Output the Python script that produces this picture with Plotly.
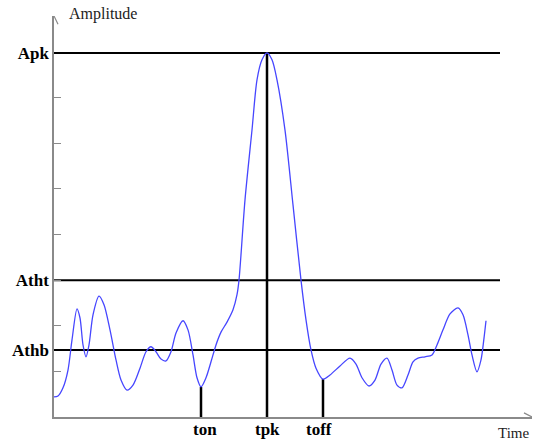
import plotly.graph_objects as go

# ---- data (time units, amplitude units) ----
time = [0, 0.4, 0.9, 1.4, 1.8, 2.3, 2.6, 2.9, 3.2, 3.5, 3.9, 4.5, 5.0, 5.6, 6.2, 6.7, 7.3, 7.9,
        8.6, 9.2, 9.7, 10.2, 10.7, 11.2, 11.7, 12.2, 12.9, 13.4, 13.9, 14.3, 14.7, 15.2, 15.7,
        16.2, 16.7, 17.3, 17.9, 18.3, 18.5, 19.1, 19.8, 20.3, 20.8, 21.3, 21.8, 22.3, 23.1,
        23.9, 24.7, 25.2, 25.7, 26.2, 26.9, 27.6, 28.6, 29.6, 30.2, 30.8, 31.5, 32.1, 32.7,
        33.3, 33.8, 34.3, 34.8, 35.4, 35.9, 36.4, 37.1, 37.8, 38.3, 38.9, 39.6, 40.4, 40.9,
        41.4, 41.8, 42.3, 42.7, 43.0, 43.2]
amplitude = [0.44, 0.46, 0.64, 1.03, 1.69, 2.37, 2.17, 1.58, 1.32, 1.58, 2.24, 2.65, 2.46, 1.91,
             1.25, 0.81, 0.59, 0.70, 1.07, 1.43, 1.54, 1.43, 1.27, 1.23, 1.43, 1.84, 2.11, 1.91,
             1.36, 0.86, 0.66, 0.86, 1.21, 1.58, 1.86, 2.08, 2.35, 2.68, 3.00, 4.76, 6.29, 7.39,
             7.83, 7.98, 7.83, 7.39, 6.29, 4.65, 3.00, 2.13, 1.47, 1.07, 0.83, 0.92, 1.12, 1.29,
             1.16, 0.86, 0.68, 0.81, 1.16, 1.29, 1.03, 0.70, 0.64, 0.92, 1.21, 1.29, 1.32, 1.36,
             1.58, 1.91, 2.26, 2.39, 2.24, 1.80, 1.36, 0.99, 1.25, 1.73, 2.11]

threshold_labels = ["Apk", "Atht", "Athb"]
threshold_values = [7.98, 3.00, 1.47]
threshold_end = 44.6

event_labels = ["ton", "tpk", "toff"]
event_times = [14.7, 21.3, 26.9]
event_tops = [0.66, 7.98, 0.83]
event_label_shift = [4, 0, -4]

amp_ticks = [1, 2, 3, 4, 5, 6, 7]
x_max = 47.8
y_max = 8.79

SERIF = "Liberation Serif"
AXIS_COLOR = "#8a8a8a"

fig = go.Figure()

# threshold lines
for v in threshold_values:
    fig.add_trace(go.Scatter(x=[0, threshold_end], y=[v, v], mode="lines",
                             line=dict(color="black", width=2), hoverinfo="skip",
                             showlegend=False, cliponaxis=False))

# event lines and labels
for t, top, lab, sh in zip(event_times, event_tops, event_labels, event_label_shift):
    fig.add_trace(go.Scatter(x=[t, t], y=[0, top], mode="lines",
                             line=dict(color="black", width=2.5), hoverinfo="skip",
                             showlegend=False, cliponaxis=False))
    fig.add_annotation(x=t, y=-0.03, xref="x", yref="paper", text="<b>%s</b>" % lab,
                       showarrow=False, xanchor="center", yanchor="middle", xshift=sh,
                       font=dict(family=SERIF, size=17, color="black"))

# signal
fig.add_trace(go.Scatter(x=time, y=amplitude, mode="lines",
                         line=dict(color="rgb(70,70,255)", width=1.3, shape="spline", smoothing=0.8),
                         showlegend=False, cliponaxis=False))

# axis arrowheads
fig.add_trace(go.Scatter(x=[-0.4, 0, 0.4], y=[y_max - 0.18, y_max, y_max - 0.18], mode="lines",
                         line=dict(color=AXIS_COLOR, width=1.2), showlegend=False,
                         hoverinfo="skip", cliponaxis=False))
fig.add_trace(go.Scatter(x=[x_max - 0.8, x_max, x_max - 0.8], y=[0.09, 0, -0.09], mode="lines",
                         line=dict(color=AXIS_COLOR, width=1.2), showlegend=False,
                         hoverinfo="skip", cliponaxis=False))

fig.add_annotation(x=1.3, y=1.005, xref="x", yref="paper", text="Amplitude",
                   showarrow=False, xanchor="left", yanchor="middle",
                   font=dict(family=SERIF, size=16, color="#222"))
fig.add_annotation(x=45.9, y=-0.04, xref="x", yref="paper", text="Time",
                   showarrow=False, xanchor="center", yanchor="middle",
                   font=dict(family=SERIF, size=15, color="#222"))

fig.update_layout(
    width=539, height=442,
    margin=dict(l=54, r=7, t=16, b=25),
    plot_bgcolor="white", paper_bgcolor="white",
    xaxis=dict(range=[0, x_max], showgrid=False, zeroline=False, automargin=False,
               showline=True, linecolor=AXIS_COLOR, linewidth=1.5,
               showticklabels=False, ticks=""),
    yaxis=dict(range=[0, y_max], showgrid=False, zeroline=False, automargin=False,
               showline=True, linecolor=AXIS_COLOR, linewidth=1.5,
               tickmode="array", tickvals=threshold_values,
               ticktext=["<b>%s</b>" % s for s in threshold_labels],
               ticks="", ticklen=0, tickfont=dict(family=SERIF, size=17, color="black"),
               minor=dict(tickmode="array", tickvals=amp_ticks, ticks="inside",
                          ticklen=7, tickcolor=AXIS_COLOR, tickwidth=1.2, showgrid=False)),
)

fig.write_html("out.html")
